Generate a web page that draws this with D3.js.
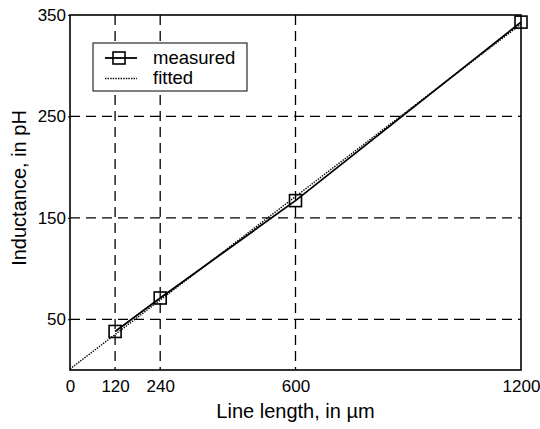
<!DOCTYPE html>
<html lang="en">
<head>
    <meta charset="UTF-8">
    <script src="https://d3js.org/d3.v7.min.js"></script>
    <style>
        body {margin: 0; background: #ffffff}
        svg {display: block; font-family: "Liberation Sans", Arial, sans-serif}
    </style>
</head>
<body>
<svg class="chart" width="540" height="429"></svg>
<script type="text/javascript">
    // measured line-length vs inductance
    const lengths = [120, 240, 600, 1200];
    const measured = [38, 71, 167, 343];
    // fitted straight line (end points)
    const fitLengths = [0, 1200];
    const fitted = [1, 341];
    const xTicks = [0, 120, 240, 600, 1200];
    const yTicks = [50, 150, 250, 350];
    const xGrid = [120, 240, 600];
    const yGrid = [50, 150, 250];

    const padLeft = 70, padRight = 521, padTop = 15, padBottom = 370;

    const svg = d3.select(".chart");

    const x = d3.scaleLinear().domain([0, 1200]).range([padLeft, padRight]);
    const y = d3.scaleLinear().domain([0, 350]).range([padBottom, padTop]);

    // dashed grid
    svg.append("g").selectAll("line").data(xGrid).enter().append("line")
        .attr("x1", d => x(d)).attr("x2", d => x(d))
        .attr("y1", padTop).attr("y2", padBottom)
        .attr("stroke", "#000").attr("stroke-width", 1.3)
        .attr("stroke-dasharray", "10,6");
    svg.append("g").selectAll("line").data(yGrid).enter().append("line")
        .attr("x1", padLeft).attr("x2", padRight)
        .attr("y1", d => y(d)).attr("y2", d => y(d))
        .attr("stroke", "#000").attr("stroke-width", 1.3)
        .attr("stroke-dasharray", "10,6");

    // frame
    svg.append("rect")
        .attr("x", padLeft).attr("y", padTop)
        .attr("width", padRight - padLeft).attr("height", padBottom - padTop)
        .attr("fill", "none").attr("stroke", "#000").attr("stroke-width", 1.6);

    // tick labels
    const xAxis = d3.axisBottom(x).tickValues(xTicks).tickFormat(d3.format("d"))
        .tickSize(0).tickPadding(10);
    const gx = svg.append("g").attr("transform", "translate(0," + padBottom + ")").call(xAxis);
    const yAxis = d3.axisLeft(y).tickValues(yTicks).tickFormat(d3.format("d"))
        .tickSize(2).tickPadding(2);
    const gy = svg.append("g").attr("transform", "translate(" + padLeft + ",0)").call(yAxis);
    [gx, gy].forEach(g => {
        g.select(".domain").remove();
        g.selectAll("text").attr("font-size", 17).attr("fill", "#000")
            .attr("font-family", "Liberation Sans, Arial, sans-serif");
        g.selectAll("line").attr("stroke", "#000");
    });

    // fitted (dotted)
    const fitData = fitLengths.map((d, i) => [d, fitted[i]]);
    svg.append("path")
        .attr("d", d3.line().x(d => x(d[0])).y(d => y(d[1]))(fitData))
        .attr("fill", "none").attr("stroke", "#000").attr("stroke-width", 1.4)
        .attr("stroke-dasharray", "1.4,1.2");

    // measured
    const measData = lengths.map((d, i) => [d, measured[i]]);
    svg.append("path")
        .attr("d", d3.line().x(d => x(d[0])).y(d => y(d[1]))(measData))
        .attr("fill", "none").attr("stroke", "#000").attr("stroke-width", 1.8);
    svg.append("g").selectAll("rect").data(measData).enter().append("rect")
        .attr("x", d => x(d[0]) - 6).attr("y", d => y(d[1]) - 6)
        .attr("width", 12).attr("height", 12)
        .attr("fill", "none").attr("stroke", "#000").attr("stroke-width", 1.6);

    // legend
    const lg = svg.append("g");
    lg.append("rect").attr("x", 93).attr("y", 43).attr("width", 154).attr("height", 48)
        .attr("fill", "#fff").attr("stroke", "#000").attr("stroke-width", 1);
    lg.append("line").attr("x1", 105).attr("x2", 137).attr("y1", 58).attr("y2", 58)
        .attr("stroke", "#000").attr("stroke-width", 1.8);
    lg.append("rect").attr("x", 113).attr("y", 52).attr("width", 12).attr("height", 12)
        .attr("fill", "none").attr("stroke", "#000").attr("stroke-width", 1.6);
    lg.append("line").attr("x1", 105).attr("x2", 137).attr("y1", 78.5).attr("y2", 78.5)
        .attr("stroke", "#000").attr("stroke-width", 1.4).attr("stroke-dasharray", "1.4,1.2");
    lg.append("text").attr("x", 153).attr("y", 64).attr("font-size", 18.5).text("measured");
    lg.append("text").attr("x", 153).attr("y", 84).attr("font-size", 18.5).text("fitted");

    // axis titles
    svg.append("text").attr("x", (padLeft + padRight) / 2).attr("y", 418)
        .attr("text-anchor", "middle").attr("font-size", 20).text("Line length, in \u00b5m");
    svg.append("text").attr("transform", "translate(26," + 188 + ") rotate(-90)")
        .attr("text-anchor", "middle").attr("font-size", 20).text("Inductance, in pH");
</script>
</body>
</html>
